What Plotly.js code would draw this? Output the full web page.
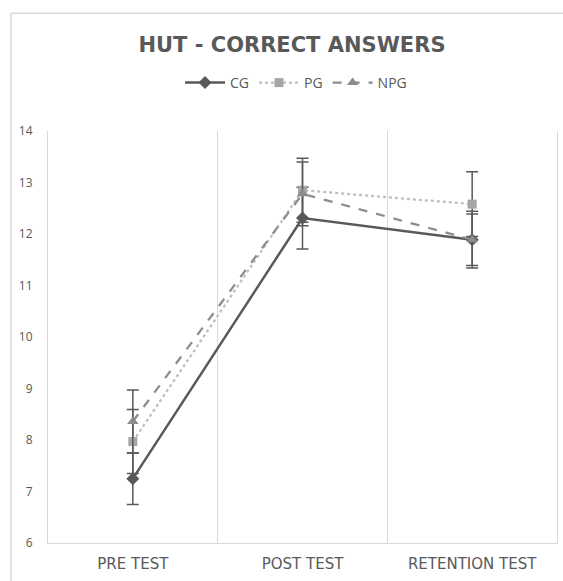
<!DOCTYPE html>
<html>
<head>
<meta charset="utf-8">
<script src="https://cdn.plot.ly/plotly-3.0.1.min.js"></script>
<style>
html,body{margin:0;padding:0;background:#fff;}
#chart{width:563px;height:581px;}
</style>
</head>
<body>
<div id="chart"></div>
<script>
const categories = ["PRE TEST", "POST TEST", "RETENTION TEST"];
const seriesNames = ["CG", "PG", "NPG"];
const cgValues = [7.25, 12.31, 11.89];
const pgValues = [7.97, 12.85, 12.58];
const npgValues = [8.36, 12.78, 11.89];
const cgErrors = [0.5, 0.6, 0.5];
const pgErrors = [0.62, 0.62, 0.63];
const npgErrors = [0.61, 0.62, 0.55];
const yTicks = [6, 7, 8, 9, 10, 11, 12, 13, 14];

const errColor = "#595959";
function err(arr) {
  return {type: "data", array: arr, visible: true, color: errColor, thickness: 1.5, width: 6};
}

const traces = [
  {
    x: categories, y: cgValues, name: seriesNames[0], type: "scatter", mode: "lines+markers",
    line: {color: "#595959", width: 2.5, dash: "solid"},
    marker: {symbol: "diamond", size: 10, color: "#595959"},
    error_y: err(cgErrors)
  },
  {
    x: categories, y: pgValues, name: seriesNames[1], type: "scatter", mode: "lines+markers",
    line: {color: "#bfbfbf", width: 2.25, dash: "dot"},
    marker: {symbol: "square", size: 9, color: "#a6a6a6"},
    error_y: err(pgErrors)
  },
  {
    x: categories, y: npgValues, name: seriesNames[2], type: "scatter", mode: "lines+markers",
    line: {color: "#8c8c8c", width: 2.25, dash: "dash"},
    marker: {symbol: "triangle-up", size: 10, color: "#8c8c8c"},
    error_y: err(npgErrors)
  }
];

const L = 48, R = 5.5, T = 130.5, B = 37.5;
const W = 563, H = 581;
const pw = W - L - R, ph = H - T - B;
const borderX = (11 - L) / pw;
const borderTopY = (H - B - 12.5) / ph;

const layout = {
  width: W, height: H,
  margin: {l: L, r: R, t: T, b: B, pad: 0},
  paper_bgcolor: "#ffffff",
  plot_bgcolor: "#ffffff",
  font: {family: "Open Sans, sans-serif", color: "#595959"},
  title: {
    text: "<b>HUT - CORRECT ANSWERS</b>",
    font: {family: "DejaVu Sans, sans-serif", size: 21, color: "#595959"},
    x: 292 / W, xref: "container", xanchor: "center",
    y: 1 - 45 / H, yref: "container", yanchor: "middle"
  },
  showlegend: true,
  legend: {
    orientation: "h",
    x: 296 / W, xref: "container", xanchor: "center",
    y: 1 - 83 / H, yref: "container", yanchor: "middle",
    font: {family: "Open Sans, sans-serif", size: 14, color: "#595959"},
    itemwidth: 40,
    tracegroupgap: 0
  },
  xaxis: {
    type: "category",
    range: [-0.5, 2.5],
    tickson: "boundaries",
    showgrid: true, gridcolor: "#d9d9d9", gridwidth: 1,
    showline: true, linecolor: "#d9d9d9", linewidth: 1,
    ticks: "", zeroline: false,
    tickfont: {family: "DejaVu Sans, sans-serif", size: 15, color: "#595959"},
    ticklabelstandoff: 7
  },
  yaxis: {
    range: [6, 14],
    tickvals: yTicks,
    showgrid: false,
    zeroline: false,
    showline: true, mirror: true, linecolor: "#d9d9d9", linewidth: 1,
    ticks: "",
    tickfont: {family: "Open Sans, sans-serif", size: 12, color: "#595959"},
    ticklabelstandoff: 12
  },
  shapes: [
    {
      type: "line", xref: "paper", yref: "paper",
      x0: borderX, x1: borderX,
      y0: borderTopY, y1: -(B + 5) / ph,
      line: {color: "#d9d9d9", width: 1.5}
    },
    {
      type: "line", xref: "paper", yref: "paper",
      x0: borderX, x1: (W - L + 5) / pw,
      y0: borderTopY, y1: borderTopY,
      line: {color: "#d9d9d9", width: 1.5}
    }
  ]
};

Plotly.newPlot("chart", traces, layout, {displayModeBar: false, staticPlot: true});
</script>
</body>
</html>
